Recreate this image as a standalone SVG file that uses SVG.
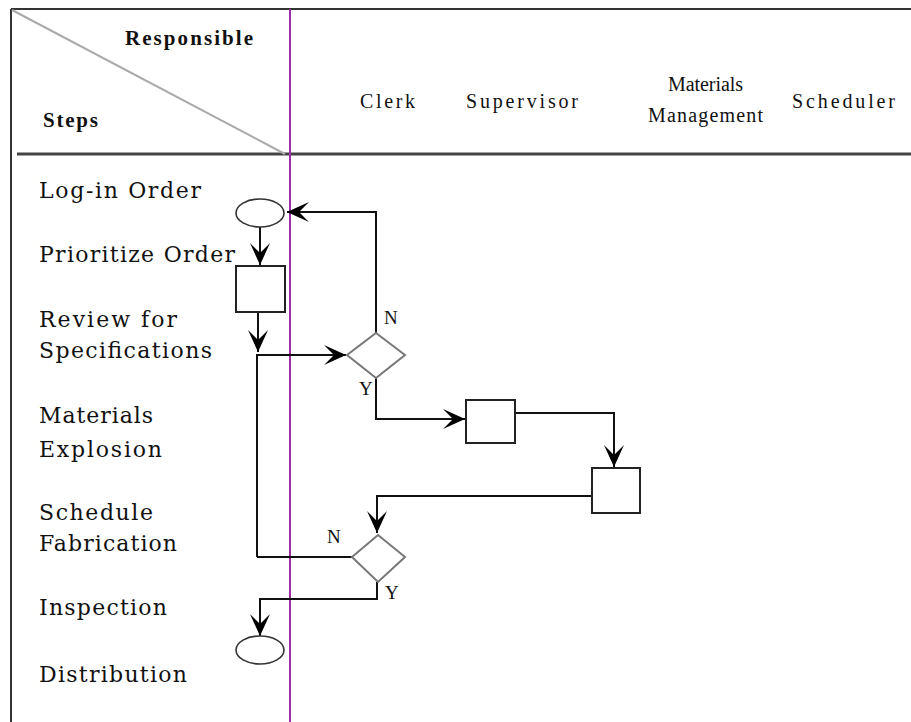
<svg xmlns="http://www.w3.org/2000/svg" width="911" height="722" viewBox="0 0 911 722">
  <style>
    .frame { stroke: #333; stroke-width: 2; fill: none; }
    .diag { stroke: #aaa; stroke-width: 2; fill: none; }
    .lane { stroke: #9b2fa3; stroke-width: 2; fill: none; }
    .hdr { font-family: "Liberation Serif", "DejaVu Serif", serif; font-size: 20px; fill: #111; }
    .corner { font-family: "Liberation Serif", "DejaVu Serif", serif; font-size: 21px; font-weight: bold; fill: #111; }
    .step { font-family: "DejaVu Serif", "Liberation Serif", serif; font-size: 22px; fill: #111; }
    .yn { font-family: "Liberation Serif", "DejaVu Serif", serif; font-size: 19px; fill: #111; }
    .term { fill: #fff; stroke: #333; stroke-width: 1.6; }
    .task { fill: #fff; stroke: #222; stroke-width: 2; }
    .decision { fill: #fff; stroke: #777; stroke-width: 2; }
    .flow { fill: none; stroke: #111; stroke-width: 2; marker-end: url(#head); }
    .flow-plain { fill: none; stroke: #111; stroke-width: 2; }
  </style>
  <defs>
    <marker id="head" viewBox="-23 -11 24 22" refX="0" refY="0" markerWidth="24" markerHeight="22" markerUnits="userSpaceOnUse" orient="auto">
      <path d="M0,0 L-22,-10 L-12,0 L-22,10 Z" fill="#000"/>
    </marker>
  </defs>

  <rect width="911" height="722" fill="#fff"/>

  <!-- table frame -->
  <g id="table">
    <line class="frame" x1="11" y1="9" x2="911" y2="9"/>
    <line class="frame" x1="11" y1="9" x2="11" y2="722"/>
    <line x1="17" y1="154" x2="911" y2="154" stroke="#444" stroke-width="3"/>
    <line class="diag" x1="12" y1="10" x2="285" y2="154"/>
    <line class="lane" x1="290" y1="9" x2="290" y2="722"/>
  </g>

  <!-- header texts -->
  <g id="header">
    <text class="corner" x="125" y="45" textLength="128" lengthAdjust="spacing">Responsible</text>
    <text class="corner" x="43" y="127" textLength="55" lengthAdjust="spacing">Steps</text>
    <text class="hdr" x="360" y="108" textLength="55" lengthAdjust="spacing">Clerk</text>
    <text class="hdr" x="466" y="108" textLength="112" lengthAdjust="spacing">Supervisor</text>
    <text class="hdr" x="668" y="91" textLength="75" lengthAdjust="spacing">Materials</text>
    <text class="hdr" x="648" y="122" textLength="115" lengthAdjust="spacing">Management</text>
    <text class="hdr" x="792" y="108" textLength="103" lengthAdjust="spacing">Scheduler</text>
  </g>

  <!-- step labels -->
  <g id="steps">
    <text class="step" x="39" y="198" textLength="162" lengthAdjust="spacing">Log-in Order</text>
    <text class="step" x="39" y="262" textLength="196" lengthAdjust="spacing">Prioritize Order</text>
    <text class="step" x="39" y="327" textLength="138" lengthAdjust="spacing">Review for</text>
    <text class="step" x="39" y="358" textLength="173" lengthAdjust="spacing">Specifications</text>
    <text class="step" x="39" y="423" textLength="114" lengthAdjust="spacing">Materials</text>
    <text class="step" x="39" y="457" textLength="123" lengthAdjust="spacing">Explosion</text>
    <text class="step" x="39" y="520" textLength="114" lengthAdjust="spacing">Schedule</text>
    <text class="step" x="39" y="551" textLength="138" lengthAdjust="spacing">Fabrication</text>
    <text class="step" x="39" y="615" textLength="128" lengthAdjust="spacing">Inspection</text>
    <text class="step" x="39" y="682" textLength="148" lengthAdjust="spacing">Distribution</text>
  </g>

  <!-- connectors -->
  <g id="connectors">
    <path class="flow" d="M260,227 L260,265"/>
    <path class="flow" d="M258,312 L258,352"/>
    <path class="flow" d="M376,333 L376,212 L287,212"/>
    <path class="flow" d="M257,557 L257,355 L346,355"/>
    <path class="flow-plain" d="M257,557 L352,557"/>
    <path class="flow" d="M376,378 L376,419 L465,419"/>
    <path class="flow" d="M515,413 L614,413 L614,467"/>
    <path class="flow" d="M592,496 L377,496 L377,533"/>
    <path class="flow" d="M377,582 L377,599 L260,599 L260,636"/>
  </g>

  <!-- nodes -->
  <g id="start">
    <ellipse class="term" cx="260" cy="213" rx="24" ry="14"/>
  </g>
  <g id="prioritize">
    <rect class="task" x="236" y="266" width="49" height="46"/>
  </g>
  <g id="review">
    <path class="decision" d="M376,333 L405,355 L376,378 L347,355 Z"/>
    <text class="yn" x="384" y="324">N</text>
    <text class="yn" x="359" y="395">Y</text>
  </g>
  <g id="explosion">
    <rect class="task" x="466" y="400" width="49" height="43"/>
  </g>
  <g id="schedule">
    <rect class="task" x="592" y="468" width="48" height="45"/>
  </g>
  <g id="inspection">
    <path class="decision" d="M378,535 L405,557 L378,582 L352,557 Z"/>
    <text class="yn" x="327" y="543">N</text>
    <text class="yn" x="385" y="599">Y</text>
  </g>
  <g id="distribution">
    <ellipse class="term" cx="260" cy="650" rx="24" ry="14"/>
  </g>
</svg>
